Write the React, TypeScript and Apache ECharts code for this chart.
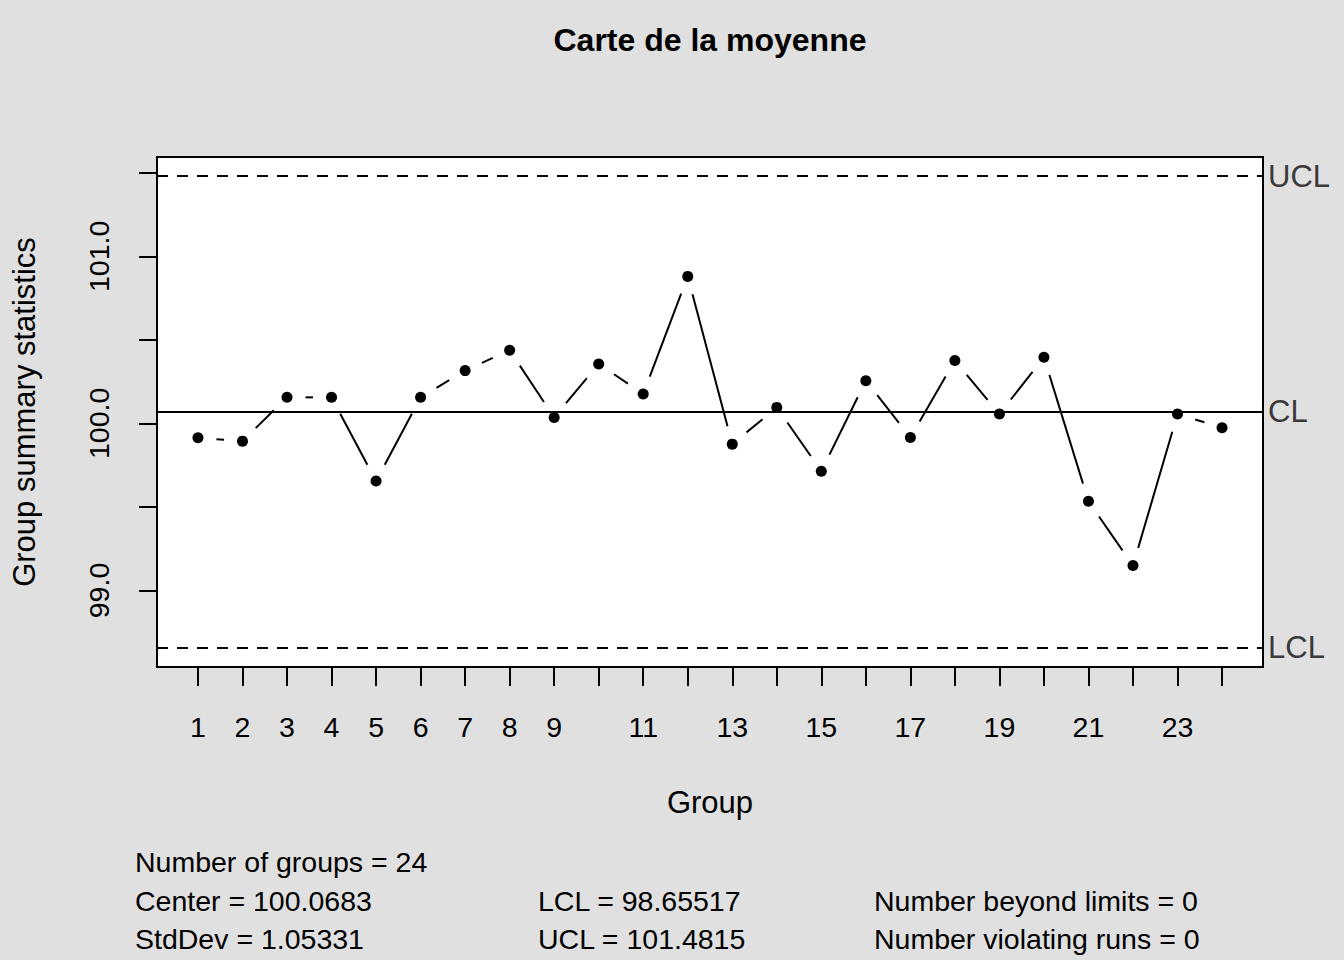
import React, { useEffect, useRef } from "react";
import * as echarts from "echarts";

const groups = [1, 2, 3, 4, 5, 6, 7, 8, 9, 10, 11, 12, 13, 14, 15, 16, 17, 18, 19, 20, 21, 22, 23, 24];
const means = [
  99.914, 99.894, 100.156, 100.156, 99.655, 100.156, 100.316, 100.438, 100.036, 100.356, 100.176, 100.88,
  99.876, 100.096, 99.714, 100.256, 99.916, 100.376, 100.056, 100.396, 99.534, 99.149, 100.056, 99.974,
];
const xTickValues = groups;
const xLabelValues = [1, 2, 3, 4, 5, 6, 7, 8, 9, 11, 13, 15, 17, 19, 21, 23];
const yTickValues = [99, 99.5, 100, 100.5, 101, 101.5];
const yLabelValues = [99, 100, 101];

const centerVal = 100.0683;
const lclVal = 98.65517;
const uclVal = 101.4815;
const stdDevText = "1.05331";
const centerText = "100.0683";
const lclText = "98.65517";
const uclText = "101.4815";
const beyondLimits = 0;
const violatingRuns = 0;

const FONT = "'Liberation Sans', Arial, Helvetica, sans-serif";
const FS = 28.5;
const FS_NAME = 31;

export default function App() {
  const ref = useRef<HTMLDivElement>(null);
  useEffect(() => {
    document.body.style.margin = "0";
    if (!ref.current) return;
    const chart = echarts.init(ref.current, null, { renderer: "svg" });
    const range = uclVal - lclVal;
    const yMin = lclVal - range * 0.04;
    const yMax = uclVal + range * 0.04;
    const xMin = 1 - 23 * 0.04;
    const xMax = 24 + 23 * 0.04;
    const segData = means.slice(0, -1).map((v, i) => [groups[i], v, groups[i + 1], means[i + 1]]);
    const gap = 18.5;
    const limitLabel = {
      show: true,
      position: "end" as const,
      distance: 5,
      color: "#3a3a3a",
      fontSize: FS_NAME,
      fontFamily: FONT,
    };
    const option: any = {
      animation: false,
      backgroundColor: "#e0e0e0",
      textStyle: { fontFamily: FONT },
      grid: {
        left: 157,
        top: 157,
        width: 1106,
        height: 510,
        show: true,
        backgroundColor: "#ffffff",
        borderColor: "#000",
        borderWidth: 2,
      },
      xAxis: {
        type: "value",
        min: xMin,
        max: xMax,
        name: "Group",
        nameLocation: "middle",
        nameGap: 120,
        nameTextStyle: { fontSize: FS_NAME, color: "#000", fontFamily: FONT },
        axisLine: { show: true, lineStyle: { color: "#000", width: 2 } },
        axisTick: { show: true, length: 19, customValues: xTickValues, lineStyle: { color: "#000", width: 2 } },
        axisLabel: {
          show: true,
          customValues: xLabelValues,
          margin: 45,
          fontSize: FS,
          color: "#000",
          fontFamily: FONT,
          formatter: (v: number) => String(v),
        },
        splitLine: { show: false },
      },
      yAxis: {
        type: "value",
        min: yMin,
        max: yMax,
        name: "Group summary statistics",
        nameLocation: "middle",
        nameRotate: 90,
        nameGap: 117,
        nameTextStyle: { fontSize: FS_NAME, color: "#000", fontFamily: FONT },
        axisLine: { show: true, lineStyle: { color: "#000", width: 2 } },
        axisTick: { show: true, length: 18, customValues: yTickValues, lineStyle: { color: "#000", width: 2 } },
        axisLabel: {
          show: true,
          customValues: yLabelValues,
          rotate: 90,
          margin: 44,
          fontSize: FS,
          color: "#000",
          fontFamily: FONT,
          formatter: (v: number) => v.toFixed(1),
        },
        splitLine: { show: false },
      },
      graphic: [
        {
          type: "text",
          x: 710,
          y: 40,
          style: {
            text: "Carte de la moyenne",
            fill: "#000",
            font: `bold 32px ${FONT}`,
            textAlign: "center",
            textVerticalAlign: "middle",
          },
        },
        ...[
          { x: 135, y: 862, t: `Number of groups = ${groups.length}` },
          { x: 135, y: 901, t: `Center = ${centerText}` },
          { x: 135, y: 939, t: `StdDev = ${stdDevText}` },
          { x: 538, y: 901, t: `LCL = ${lclText}` },
          { x: 538, y: 939, t: `UCL = ${uclText}` },
          { x: 874, y: 901, t: `Number beyond limits = ${beyondLimits}` },
          { x: 874, y: 939, t: `Number violating runs = ${violatingRuns}` },
        ].map((d) => ({
          type: "text",
          x: d.x,
          y: d.y,
          style: {
            text: d.t,
            fill: "#000",
            font: `${FS}px ${FONT}`,
            textAlign: "left",
            textVerticalAlign: "middle",
          },
        })),
      ],
      series: [
        {
          type: "custom",
          name: "segments",
          silent: true,
          data: segData,
          encode: { x: [0, 2], y: [1, 3] },
          renderItem: (params: any, api: any) => {
            const p1 = api.coord([api.value(0), api.value(1)]);
            const p2 = api.coord([api.value(2), api.value(3)]);
            const dx = p2[0] - p1[0];
            const dy = p2[1] - p1[1];
            const len = Math.hypot(dx, dy);
            if (len <= 2 * gap) return { type: "group", children: [] };
            const ux = dx / len;
            const uy = dy / len;
            return {
              type: "line",
              shape: {
                x1: p1[0] + ux * gap,
                y1: p1[1] + uy * gap,
                x2: p2[0] - ux * gap,
                y2: p2[1] - uy * gap,
              },
              style: { stroke: "#000", lineWidth: 2 },
            };
          },
        },
        {
          type: "scatter",
          name: "means",
          symbol: "circle",
          symbolSize: 11,
          itemStyle: { color: "#000", opacity: 1 },
          data: groups.map((g, i) => [g, means[i]]),
          markLine: {
            silent: true,
            symbol: "none",
            animation: false,
            data: [
              { yAxis: uclVal, lineStyle: { color: "#000", width: 2, type: [11, 9] }, label: { ...limitLabel, formatter: "UCL" } },
              { yAxis: centerVal, lineStyle: { color: "#000", width: 2, type: "solid" }, label: { ...limitLabel, formatter: "CL" } },
              { yAxis: lclVal, lineStyle: { color: "#000", width: 2, type: [11, 9] }, label: { ...limitLabel, formatter: "LCL" } },
            ],
          },
        },
      ],
    };
    chart.setOption(option);
    return () => chart.dispose();
  }, []);
  return (
    <div
      ref={ref}
      style={{ position: "absolute", left: 0, top: 0, width: 1344, height: 960, background: "#e0e0e0" }}
    />
  );
}
